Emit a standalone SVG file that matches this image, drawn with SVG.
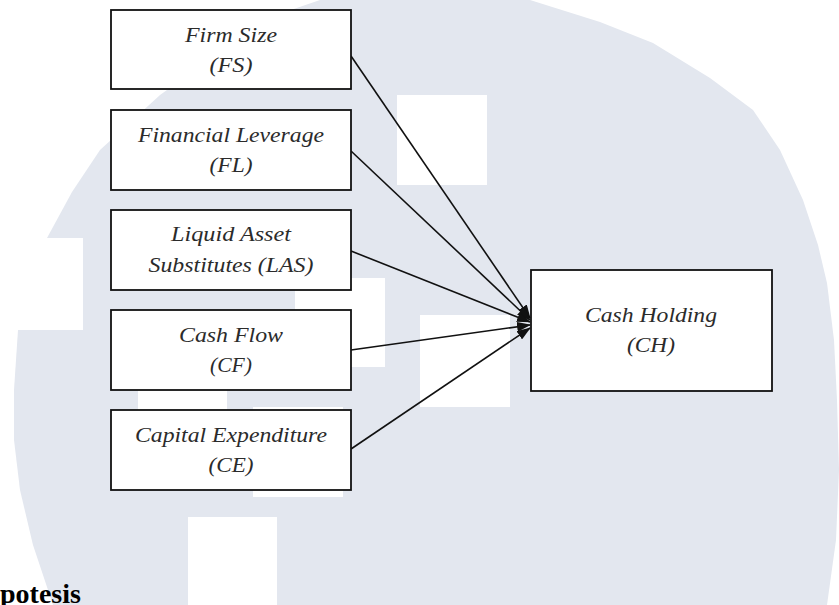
<svg xmlns="http://www.w3.org/2000/svg" width="839" height="605" viewBox="0 0 839 605">
  <defs>
    <style>
      .bg { fill: #e3e7ef; }
      .hole { fill: #ffffff; }
      .box { fill: #ffffff; stroke: #111111; stroke-width: 1.8; }
      .lbl { font-family: "Liberation Serif", "Times New Roman", serif; font-style: italic; font-size: 21px; fill: #2b2b2b; text-anchor: middle; }
      .edge { stroke: #111111; stroke-width: 1.6; fill: none; marker-end: url(#arrow); }
      .heading { font-family: "Liberation Serif", "Times New Roman", serif; font-weight: bold; font-size: 28px; fill: #000000; }
    </style>
    <marker id="arrow" markerUnits="userSpaceOnUse" markerWidth="14" markerHeight="10" refX="13" refY="5" orient="auto">
      <path d="M0,0 L14,5 L0,10 z" fill="#111111"/>
    </marker>
  </defs>

  <rect width="839" height="605" fill="#ffffff"/>

  <g id="watermark">
    <path class="bg" d="M320,0 L530,0 L600,22 L653,43 L710,78 L753,110 L780,150 L803,200 L818,245 L827,283 L834,340 L837,400 L839,470 L836,540 L827,605 L53,605 L33,545 L20,490 L14,440 L14,390 L18,330 L28,285 L47,238 L72,192 L100,150 L160,95 L230,45 L285,12 Z"/>
    <path class="hole" d="M0,238 L83,238 L83,330 L0,330 Z"/>
    <rect class="hole" x="397" y="95" width="90" height="90"/>
    <rect class="hole" x="295" y="278" width="90" height="89"/>
    <rect class="hole" x="420" y="315" width="90" height="92"/>
    <rect class="hole" x="253" y="407" width="90" height="90"/>
    <rect class="hole" x="188" y="517" width="89" height="88"/>
    <rect class="hole" x="138" y="322" width="89" height="88"/>
  </g>

  <g id="connectors">
    <line class="edge" x1="351" y1="56" x2="530" y2="318"/>
    <line class="edge" x1="351" y1="151" x2="530" y2="320"/>
    <line class="edge" x1="351" y1="251" x2="530" y2="322"/>
    <line class="edge" x1="351" y1="350" x2="530" y2="325"/>
    <line class="edge" x1="351" y1="449" x2="530" y2="328"/>
  </g>

  <g id="node-fs">
    <rect class="box" x="111" y="10" width="240" height="79"/>
    <text class="lbl" x="231" y="42" textLength="92" lengthAdjust="spacingAndGlyphs">Firm Size</text>
    <text class="lbl" x="231" y="72" textLength="43" lengthAdjust="spacingAndGlyphs">(FS)</text>
  </g>

  <g id="node-fl">
    <rect class="box" x="111" y="110" width="240" height="80"/>
    <text class="lbl" x="231" y="142" textLength="186" lengthAdjust="spacingAndGlyphs">Financial Leverage</text>
    <text class="lbl" x="231" y="172" textLength="43" lengthAdjust="spacingAndGlyphs">(FL)</text>
  </g>

  <g id="node-las">
    <rect class="box" x="111" y="210" width="240" height="80"/>
    <text class="lbl" x="231" y="241" textLength="120" lengthAdjust="spacingAndGlyphs">Liquid Asset</text>
    <text class="lbl" x="231" y="272" textLength="165" lengthAdjust="spacingAndGlyphs">Substitutes (LAS)</text>
  </g>

  <g id="node-cf">
    <rect class="box" x="111" y="310" width="240" height="80"/>
    <text class="lbl" x="231" y="342" textLength="104" lengthAdjust="spacingAndGlyphs">Cash Flow</text>
    <text class="lbl" x="231" y="372" textLength="42" lengthAdjust="spacingAndGlyphs">(CF)</text>
  </g>

  <g id="node-ce">
    <rect class="box" x="111" y="410" width="240" height="80"/>
    <text class="lbl" x="231" y="442" textLength="192" lengthAdjust="spacingAndGlyphs">Capital Expenditure</text>
    <text class="lbl" x="231" y="472" textLength="45" lengthAdjust="spacingAndGlyphs">(CE)</text>
  </g>

  <g id="node-ch">
    <rect class="box" x="531" y="270" width="241" height="121"/>
    <text class="lbl" x="651" y="322" textLength="132" lengthAdjust="spacingAndGlyphs">Cash Holding</text>
    <text class="lbl" x="651" y="352" textLength="48" lengthAdjust="spacingAndGlyphs">(CH)</text>
  </g>

  <text class="heading" x="0" y="603">potesis</text>
</svg>
